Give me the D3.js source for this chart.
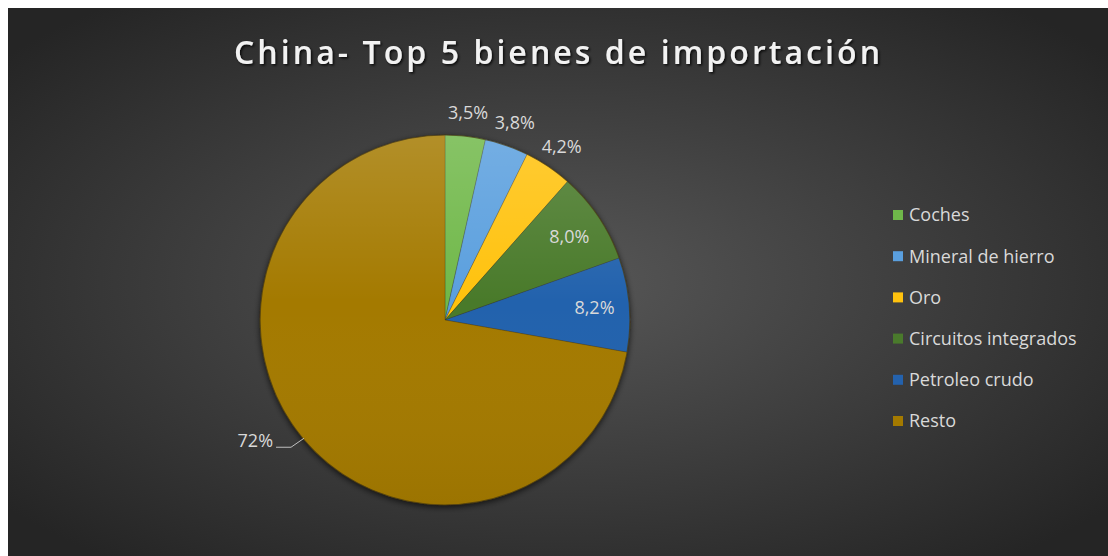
<!DOCTYPE html>
<html>
<head>
<meta charset="utf-8">
<script src="https://cdn.jsdelivr.net/npm/d3@7"></script>
<style>
  html, body { margin: 0; padding: 0; background: #ffffff; }
  svg { display: block; }
</style>
</head>
<body>
<svg id="chart" width="1108" height="556"></svg>
<script>
const categories = ["Coches", "Mineral de hierro", "Oro", "Circuitos integrados", "Petroleo crudo", "Resto"];
const values = [3.5, 3.8, 4.2, 8.0, 8.2, 72];
const labels = ["3,5%", "3,8%", "4,2%", "8,0%", "8,2%", "72%"];
const colors = ["#6fb84a", "#5a9fde", "#ffc20e", "#4a7a2c", "#2462ad", "#a47a00"];
const titleText = "China-  Top 5 bienes de importación";

const svg = d3.select("#chart");
const W = 1108, H = 556;
const defs = svg.append("defs");

const bg = defs.append("radialGradient").attr("id", "bg")
  .attr("cx", "50%").attr("cy", "50%").attr("r", "65%");
bg.append("stop").attr("offset", "0%").attr("stop-color", "#575757");
bg.append("stop").attr("offset", "100%").attr("stop-color", "#252525");

const sh = defs.append("filter").attr("id", "pieShadow")
  .attr("x", "-20%").attr("y", "-20%").attr("width", "140%").attr("height", "140%");
sh.append("feGaussianBlur").attr("in", "SourceAlpha").attr("stdDeviation", 3).attr("result", "b");
sh.append("feOffset").attr("in", "b").attr("dx", 0).attr("dy", 2).attr("result", "o");
sh.append("feComponentTransfer").attr("in", "o").attr("result", "oa")
  .append("feFuncA").attr("type", "linear").attr("slope", 0.7);
const m = sh.append("feMerge");
m.append("feMergeNode").attr("in", "oa");
m.append("feMergeNode").attr("in", "SourceGraphic");

const tsh = defs.append("filter").attr("id", "titleShadow")
  .attr("x", "-5%").attr("y", "-30%").attr("width", "110%").attr("height", "160%");
tsh.append("feDropShadow").attr("dx", 1.5).attr("dy", 1.5).attr("stdDeviation", 1.2)
  .attr("flood-color", "#000").attr("flood-opacity", 0.8);

const lg = defs.append("linearGradient").attr("id", "pieLight")
  .attr("x1", "0").attr("y1", "0").attr("x2", "0").attr("y2", "1");
lg.append("stop").attr("offset", "0%").attr("stop-color", "#ffffff").attr("stop-opacity", 0.16);
lg.append("stop").attr("offset", "45%").attr("stop-color", "#ffffff").attr("stop-opacity", 0.0);
lg.append("stop").attr("offset", "100%").attr("stop-color", "#000000").attr("stop-opacity", 0.05);

svg.append("rect").attr("x", 8).attr("y", 8).attr("width", W - 8).attr("height", H - 8)
  .attr("fill", "url(#bg)");

svg.append("text")
  .attr("x", 557).attr("y", 64)
  .attr("text-anchor", "middle")
  .attr("font-family", "'Open Sans', 'Noto Sans', sans-serif")
  .attr("font-weight", 600)
  .attr("font-size", 32)
  .attr("fill", "#f2f2f2")
  .attr("textLength", 646)
  .attr("lengthAdjust", "spacing")
  .attr("filter", "url(#titleShadow)")
  .text(titleText);

const cx = 445, cy = 320, r = 185;
const pie = d3.pie().sort(null).value(d => d)(values);
const arc = d3.arc().innerRadius(0).outerRadius(r);
const g = svg.append("g").attr("transform", `translate(${cx},${cy})`);

const pg = g.append("g").attr("filter", "url(#pieShadow)");
pg.selectAll("path.slice").data(pie).join("path")
  .attr("class", "slice")
  .attr("d", arc)
  .attr("fill", (d, i) => colors[i])
  .attr("stroke", "#3a3320")
  .attr("stroke-opacity", 0.35)
  .attr("stroke-width", 0.8);

g.append("circle").attr("r", r).attr("fill", "url(#pieLight)").attr("pointer-events", "none");
g.append("circle").attr("r", r).attr("fill", "none").attr("stroke", "#4a3a10")
  .attr("stroke-opacity", 0.6).attr("stroke-width", 1.2);

const labelFont = "'Open Sans', 'Noto Sans', sans-serif";
const outerArc = d3.arc().innerRadius(209).outerRadius(209);
const innerArc = d3.arc().innerRadius(150).outerRadius(150);
const edgeArc = d3.arc().innerRadius(r - 1).outerRadius(r - 1);

pie.forEach((d, i) => {
  let pos;
  if (i < 3) pos = outerArc.centroid(d);
  else if (i < 5) pos = innerArc.centroid(d);
  else pos = null;
  if (pos) {
    g.append("text")
      .attr("x", pos[0]).attr("y", pos[1])
      .attr("dy", "0.36em")
      .attr("text-anchor", "middle")
      .attr("font-family", labelFont)
      .attr("font-size", 18)
      .attr("fill", "#d9d9d9")
      .text(labels[i]);
  } else {
    const e = edgeArc.centroid(d);
    const knee = [e[0] - 13, e[1] + 9];
    const end = [knee[0] - 15, knee[1]];
    g.append("polyline")
      .attr("points", [e, knee, end].map(p => p.join(",")).join(" "))
      .attr("fill", "none").attr("stroke", "#bfbfbf").attr("stroke-width", 1);
    g.append("text")
      .attr("x", end[0] - 3).attr("y", end[1])
      .attr("text-anchor", "end")
      .attr("font-family", labelFont)
      .attr("font-size", 18)
      .attr("fill", "#d9d9d9")
      .text(labels[i]);
  }
});

const legend = svg.append("g").attr("transform", "translate(893,215)");
const items = legend.selectAll("g").data(categories).join("g")
  .attr("transform", (d, i) => `translate(0,${i * 41.2})`);
items.append("rect").attr("x", 0).attr("y", -5).attr("width", 10).attr("height", 10)
  .attr("fill", (d, i) => colors[i]);
items.append("text").attr("x", 16).attr("y", 0).attr("dy", "0.35em")
  .attr("font-family", labelFont)
  .attr("font-size", 18)
  .attr("fill", "#d9d9d9")
  .text(d => d);
</script>
</body>
</html>
